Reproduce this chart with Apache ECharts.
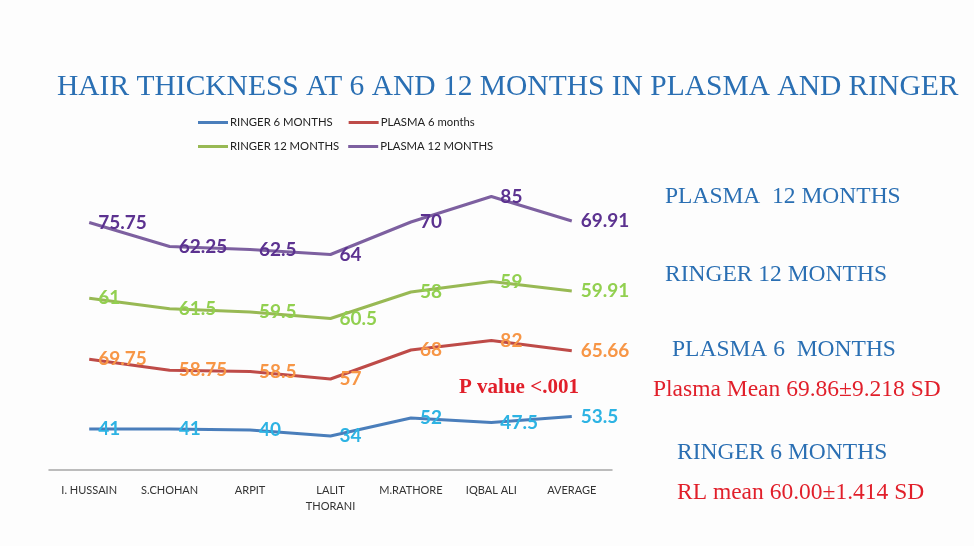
<!DOCTYPE html>
<html>
<head>
<meta charset="utf-8">
<script src="https://cdn.jsdelivr.net/npm/echarts@6/dist/echarts.min.js"></script>
<style>
  html, body { margin: 0; padding: 0; background: #fdfdfd; }
  #main { width: 974px; height: 546px; }
</style>
</head>
<body>
<div id="main"></div>
<script>
// categories and series values (stacked line, as in the original sheet)
const patients = ['I. HUSSAIN', 'S.CHOHAN', 'ARPIT', 'LALIT\nTHORANI', 'M.RATHORE', 'IQBAL ALI', 'AVERAGE'];
const ringer6 = [41, 41, 40, 34, 52, 47.5, 53.5];
const plasma6 = [69.75, 58.75, 58.5, 57, 68, 82, 65.66];
const ringer12 = [61, 61.5, 59.5, 60.5, 58, 59, 59.91];
const plasma12 = [75.75, 62.25, 62.5, 64, 70, 85, 69.91];

const seriesNames = ['RINGER 6 MONTHS', 'PLASMA 6 months', 'RINGER 12 MONTHS', 'PLASMA 12 MONTHS'];
const lineColors = ['#4a7ebb', '#be4b48', '#98b954', '#7d60a0'];
const labelColors = ['#2db3e3', '#f79646', '#92d050', '#5c3290'];

const chartDom = document.getElementById('main');
let myChart = echarts.init(chartDom);
let option;

function makeSeries(i, data) {
    return {
        name: seriesNames[i],
        type: 'line',
        stack: 'total',
        symbol: 'circle',
        symbolSize: 0,
        showSymbol: true,
        lineStyle: { width: 3, color: lineColors[i] },
        itemStyle: { color: lineColors[i] },
        label: {
            show: true,
            position: 'right',
            distance: 9,
            color: labelColors[i],
            fontFamily: 'Lato',
            fontWeight: 'bold',
            fontSize: 19
        },
        data: data
    };
}

const blue = '#2a6fb3';
const red = '#e11f2a';
const serif = '"Liberation Serif", "DejaVu Serif", serif';

function legendRow(names, top, gap) {
    return {
        data: names,
        left: 198,
        top: top,
        padding: 0,
        icon: 'rect',
        itemWidth: 30,
        itemHeight: 3,
        itemGap: gap,
        textStyle: { fontFamily: 'Lato', fontSize: 11.3, color: '#222', padding: [0, 0, 0, -3] }
    };
}

option = {
    backgroundColor: '#fdfdfd',
    animation: false,
    title: {
        text: 'HAIR THICKNESS AT 6 AND 12 MONTHS IN PLASMA AND RINGER',
        left: 57,
        top: 72,
        padding: 0,
        textStyle: {
            fontFamily: serif,
            fontWeight: 'normal',
            fontSize: 29.5,
            color: blue
        }
    },
    legend: [
        legendRow([seriesNames[0], seriesNames[1]], 117, 16),
        legendRow([seriesNames[2], seriesNames[3]], 141, 9)
    ],
    grid: {
        left: 49,
        right: 362,
        top: 170,
        bottom: 76
    },
    xAxis: {
        type: 'category',
        data: patients,
        axisTick: { show: false },
        axisLine: { lineStyle: { color: '#a6a6a6', width: 1.5 } },
        axisLabel: {
            interval: 0,
            margin: 12,
            fontFamily: 'Lato',
            fontSize: 11,
            color: '#333',
            lineHeight: 16
        }
    },
    yAxis: {
        type: 'value',
        min: 0,
        max: 300,
        show: false
    },
    graphic: [
        { type: 'text', style: { text: 'PLASMA  12 MONTHS', x: 665, y: 197, verticalAlign: 'middle', font: '23.5px ' + serif, fill: blue } },
        { type: 'text', style: { text: 'RINGER 12 MONTHS', x: 665, y: 275, verticalAlign: 'middle', font: '23.5px ' + serif, fill: blue } },
        { type: 'text', style: { text: 'PLASMA 6  MONTHS', x: 672, y: 350, verticalAlign: 'middle', font: '23.5px ' + serif, fill: blue } },
        { type: 'text', style: { text: 'Plasma Mean 69.86±9.218 SD', x: 653, y: 390, verticalAlign: 'middle', font: '23.5px ' + serif, fill: red } },
        { type: 'text', style: { text: 'RINGER 6 MONTHS', x: 677, y: 453, verticalAlign: 'middle', font: '23.5px ' + serif, fill: blue } },
        { type: 'text', style: { text: 'RL mean 60.00±1.414 SD', x: 677, y: 493, verticalAlign: 'middle', font: '23.5px ' + serif, fill: red } },
        { type: 'text', style: { text: 'P value <.001', x: 459, y: 388, verticalAlign: 'middle', font: 'bold 21px ' + serif, fill: red } }
    ],
    series: [
        makeSeries(0, ringer6),
        makeSeries(1, plasma6),
        makeSeries(2, ringer12),
        makeSeries(3, plasma12)
    ]
};

option && myChart.setOption(option);
</script>
</body>
</html>
